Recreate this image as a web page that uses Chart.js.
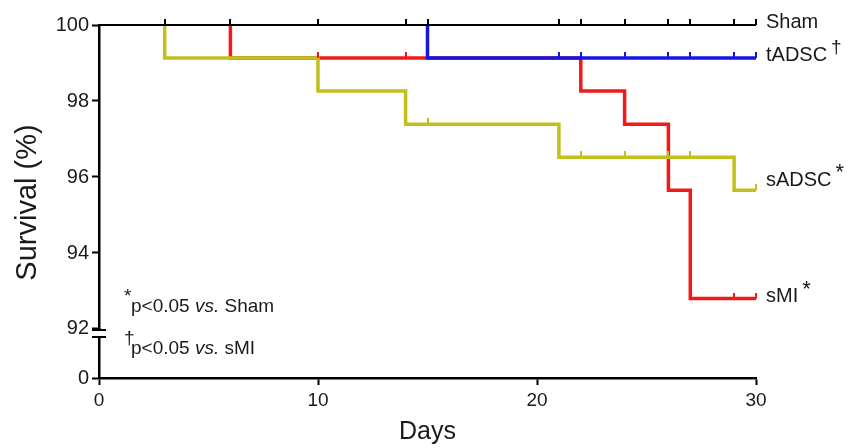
<!DOCTYPE html>
<html>
<head>
<meta charset="utf-8">
<script src="https://cdn.jsdelivr.net/npm/chart.js@4.4.1/dist/chart.umd.min.js"></script>
<style>
	html, body { margin: 0; padding: 0; background: #fff; }
	#wrap { width: 860px; height: 448px; }
</style>
</head>
<body>
<div id="wrap"><canvas id="chart-survival"></canvas></div>
<script>
// Kaplan-Meier data (days, survival %)
// colored curves start at their first drop, the Sham line covers 100% before that
const SERIES_NAMES = ["Sham", "tADSC", "sADSC", "sMI"];
const SERIES_MARKS = ["", "\u2020", "*", "*"];

const SHAM_DAYS = [0, 30];
const SHAM_SURV = [100, 100];
const SHAM_CENSOR = [3, 6, 10, 14, 15, 21, 22, 24, 26, 27, 29, 30];

const TADSC_DAYS = [15, 15, 30];
const TADSC_SURV = [100, 99.13, 99.13];
const TADSC_CENSOR = [21, 22, 24, 26, 27, 29, 30];

const SADSC_DAYS = [3, 3, 10, 14, 21, 29, 30];
const SADSC_SURV = [100, 99.13, 98.26, 97.39, 96.52, 95.65, 95.65];
const SADSC_CENSOR = [15, 22, 24, 26, 27, 30];

const SMI_DAYS = [6, 6, 22, 24, 26, 27, 30];
const SMI_SURV = [100, 99.13, 98.26, 97.39, 95.65, 92.8, 92.8];
const SMI_CENSOR = [10, 14, 29, 30];

const X_TICKS = [0, 10, 20, 30];
const Y_TICKS = [92, 94, 96, 98, 100];
const Y_LOW_TICKS = [0];

// Styling
const FONT = "'Liberation Sans', Arial, Helvetica, sans-serif";
const TEXT = "#1a1a1a";
const COLORS = ["#000000", "#1616e2", "#c3c01e", "#f01a1a"];
const WIDTHS = [2, 3.5, 3.5, 3.5];
const LABEL_DY = [-3, -3, -10, -2];

const ALL_DAYS = [SHAM_DAYS, TADSC_DAYS, SADSC_DAYS, SMI_DAYS];
const ALL_SURV = [SHAM_SURV, TADSC_SURV, SADSC_SURV, SMI_SURV];
const ALL_CENSOR = [SHAM_CENSOR, TADSC_CENSOR, SADSC_CENSOR, SMI_CENSOR];

// survival value of a step curve at day d
const stepValue = (days, surv, d) => {
	let v = surv[0];
	days.forEach((t, i) => {
		if (t <= d) v = surv[i];
	});
	return v;
};

// small upward tick used as censor mark
const censorMark = (color) => {
	const c = document.createElement("canvas");
	c.width = 2;
	c.height = 12;
	const g = c.getContext("2d");
	g.fillStyle = color;
	g.fillRect(0, 0, c.width, 6);
	return c;
};

const censorSets = SERIES_NAMES.map((name, i) => ({
	label: name + " censored",
	data: ALL_CENSOR[i].map((d) => ({ x: d, y: stepValue(ALL_DAYS[i], ALL_SURV[i], d) })),
	yAxisID: "y",
	showLine: false,
	pointStyle: censorMark(COLORS[i]),
	pointRadius: 4,
	clip: false,
}));

const lineSets = SERIES_NAMES.map((name, i) => ({
	label: name,
	data: ALL_DAYS[i].map((d, k) => ({ x: d, y: ALL_SURV[i][k] })),
	yAxisID: "y",
	stepped: true,
	borderColor: COLORS[i],
	borderWidth: WIDTHS[i],
	borderJoinStyle: "miter",
	borderCapStyle: "butt",
	pointRadius: 0,
	fill: false,
	clip: false,
}));

const decorPlugin = {
	id: "decor",
	afterDraw(chart) {
		const { ctx, chartArea, scales } = chart;
		const x = scales.x;
		const y = scales.y;
		ctx.save();

		// axis break between 92 and 0
		const ax = y.right;
		const by = y.bottom;
		ctx.fillStyle = "#fff";
		ctx.fillRect(ax - 3, by + 2, 6, 5);
		ctx.strokeStyle = "#000";
		ctx.lineWidth = 2;
		ctx.beginPath();
		ctx.moveTo(ax - 7, by + 1);
		ctx.lineTo(ax + 7, by + 1);
		ctx.moveTo(ax - 7, by + 8);
		ctx.lineTo(ax + 7, by + 8);
		ctx.stroke();

		// y axis title
		ctx.fillStyle = TEXT;
		ctx.font = "29px " + FONT;
		ctx.textAlign = "center";
		ctx.textBaseline = "middle";
		ctx.translate(28, (chartArea.top + chartArea.bottom) / 2 + 1);
		ctx.rotate(-Math.PI / 2);
		ctx.fillText("Survival (%)", 0, 0);
		ctx.setTransform(1, 0, 0, 1, 0, 0);

		// series labels at curve ends
		ctx.textAlign = "left";
		SERIES_NAMES.forEach((name, i) => {
			const surv = ALL_SURV[i];
			const px = x.getPixelForValue(ALL_DAYS[i][ALL_DAYS[i].length - 1]) + 10;
			const py = y.getPixelForValue(surv[surv.length - 1]) + LABEL_DY[i];
			ctx.font = "20px " + FONT;
			ctx.fillText(name, px, py);
			if (SERIES_MARKS[i]) {
				const w = ctx.measureText(name).width;
				ctx.font = (SERIES_MARKS[i] === "*" ? "22px " : "19px ") + FONT;
				ctx.fillText(SERIES_MARKS[i], px + w + 4, py - 7);
			}
		});

		// significance notes
		const notes = [
			["*", "Sham", 307],
			["\u2020", "sMI", 349],
		];
		notes.forEach(([mark, ref, ny]) => {
			let tx = chartArea.left + 25;
			ctx.font = "19px " + FONT;
			ctx.fillText(mark, tx, ny - 10);
			tx += 7;
			ctx.fillText("p<0.05 ", tx, ny);
			tx += ctx.measureText("p<0.05 ").width;
			ctx.font = "italic 19px " + FONT;
			ctx.fillText("vs.", tx, ny);
			tx += ctx.measureText("vs.").width;
			ctx.font = "19px " + FONT;
			ctx.fillText(" " + ref, tx, ny);
		});
		ctx.restore();
	},
};

const axisGrid = {
	drawOnChartArea: false,
	drawTicks: true,
	tickLength: 7,
	tickWidth: 2,
	tickColor: "#000",
};
const axisBorder = { color: "#000", width: 2.5 };

new Chart(document.getElementById("chart-survival"), {
	type: "line",
	data: { datasets: [...censorSets, ...lineSets] },
	options: {
		responsive: true,
		maintainAspectRatio: false,
		animation: false,
		layout: { padding: { left: 54, right: 104, top: 25, bottom: 0 } },
		plugins: {
			legend: { display: false },
			tooltip: { enabled: false },
			title: { display: false },
		},
		scales: {
			x: {
				type: "linear",
				position: "bottom",
				min: 0,
				max: 30,
				afterBuildTicks: (s) => {
					s.ticks = X_TICKS.map((v) => ({ value: v }));
				},
				afterFit: (s) => {
					s.height = 70;
				},
				grid: { ...axisGrid },
				border: { ...axisBorder },
				ticks: { color: TEXT, font: { size: 19, family: FONT }, padding: 4, maxRotation: 0 },
				title: {
					display: true,
					text: "Days",
					color: TEXT,
					font: { size: 25, family: FONT },
					padding: { top: 0, bottom: 1 },
				},
			},
			yLow: {
				type: "linear",
				position: "left",
				stack: "surv",
				stackWeight: 1.29,
				min: 0,
				max: 1,
				afterBuildTicks: (s) => {
					s.ticks = Y_LOW_TICKS.map((v) => ({ value: v }));
				},
				afterFit: (s) => {
					s.width = 45;
				},
				grid: { ...axisGrid },
				border: { ...axisBorder },
				ticks: { color: TEXT, font: { size: 20, family: FONT }, padding: 3 },
			},
			y: {
				type: "linear",
				position: "left",
				stack: "surv",
				stackWeight: 8,
				min: 92,
				max: 100,
				afterBuildTicks: (s) => {
					s.ticks = Y_TICKS.map((v) => ({ value: v }));
				},
				afterFit: (s) => {
					s.width = 45;
				},
				grid: { ...axisGrid },
				border: { ...axisBorder },
				ticks: { color: TEXT, font: { size: 20, family: FONT }, padding: 3 },
			},
		},
	},
	plugins: [decorPlugin],
});
</script>
</body>
</html>
